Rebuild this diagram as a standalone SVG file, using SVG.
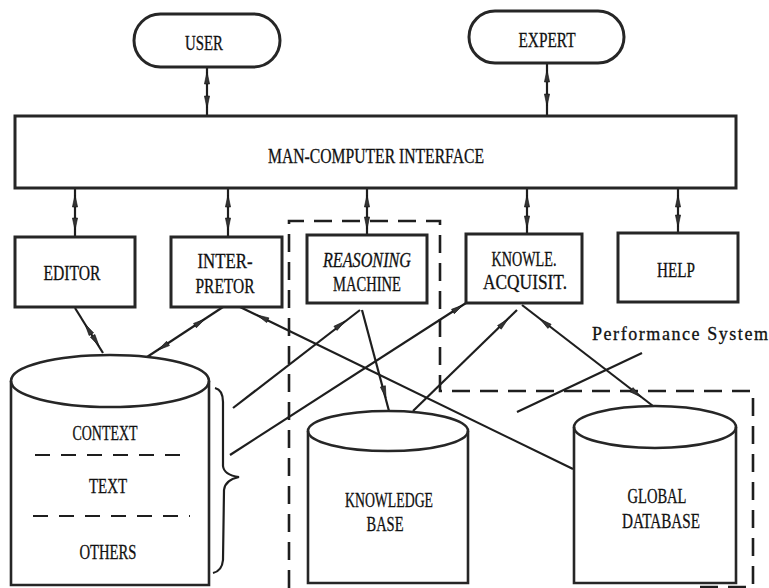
<svg xmlns="http://www.w3.org/2000/svg" xmlns:xlink="http://www.w3.org/1999/xlink" width="769" height="588" viewBox="0 0 769 588">
<style>
.bx{fill:#fff;stroke:#262626;stroke-width:3}
.cy{fill:none;stroke:#262626;stroke-width:2.6}
.ln{fill:none;stroke:#1e1e1e;stroke-width:2.2}
.ds{fill:none;stroke:#1e1e1e;stroke-width:2.6;stroke-dasharray:18 10}
.dsi{fill:none;stroke:#1e1e1e;stroke-width:2.2;stroke-dasharray:15 11}
.t{font-family:"Liberation Serif","Times New Roman",serif;font-size:20px;fill:#111;text-anchor:middle;stroke:#111;stroke-width:0.3}
.ps{font-family:"Liberation Serif","Times New Roman",serif;font-size:18px;fill:#111;stroke:#111;stroke-width:0.3}
.ah{fill:#333;stroke:#111;stroke-width:0.6}
</style>
<defs>
<path id="ah" class="ah" d="M0,0 L-12,-2.6 L-12,2.6 Z"/>
</defs>
<rect width="769" height="588" fill="#fff"/>

<g id="performance-system">
<path class="ds" d="M289,588 V221 H440 V391 H753 V587 H690"/>
<text class="ps" x="592" y="340" textLength="176" lengthAdjust="spacing">Performance System</text>
</g>

<g id="connectors">
<line class="ln" x1="207" y1="67" x2="207" y2="116"/>
<use xlink:href="#ah" transform="translate(207,72) rotate(-90)"/>
<use xlink:href="#ah" transform="translate(207,108) rotate(90)"/>
<line class="ln" x1="547" y1="63" x2="547" y2="115"/>
<use xlink:href="#ah" transform="translate(547,70) rotate(-90)"/>
<use xlink:href="#ah" transform="translate(547,106) rotate(90)"/>

<line class="ln" x1="75" y1="188" x2="75" y2="237"/>
<use xlink:href="#ah" transform="translate(75,195) rotate(-90)"/>
<use xlink:href="#ah" transform="translate(75,230) rotate(90)"/>
<line class="ln" x1="228" y1="188" x2="228" y2="237"/>
<use xlink:href="#ah" transform="translate(228,195) rotate(-90)"/>
<use xlink:href="#ah" transform="translate(228,230) rotate(90)"/>
<line class="ln" x1="367" y1="188" x2="367" y2="235"/>
<use xlink:href="#ah" transform="translate(367,195) rotate(-90)"/>
<use xlink:href="#ah" transform="translate(367,229) rotate(90)"/>
<line class="ln" x1="527" y1="188" x2="527" y2="234"/>
<use xlink:href="#ah" transform="translate(527,195) rotate(-90)"/>
<use xlink:href="#ah" transform="translate(527,228) rotate(90)"/>
<line class="ln" x1="678" y1="188" x2="678" y2="233"/>
<use xlink:href="#ah" transform="translate(678,195) rotate(-90)"/>
<use xlink:href="#ah" transform="translate(678,227) rotate(90)"/>

<line class="ln" x1="75" y1="308" x2="103" y2="353"/>
<use xlink:href="#ah" transform="translate(85,324) rotate(-121.9)"/>
<use xlink:href="#ah" transform="translate(99,346) rotate(58.1)"/>

<line class="ln" x1="223" y1="307" x2="147" y2="357"/>
<use xlink:href="#ah" transform="translate(205,319) rotate(-33.3)"/>
<use xlink:href="#ah" transform="translate(158,350) rotate(146.7)"/>

<line class="ln" x1="240" y1="307" x2="573" y2="469"/>
<use xlink:href="#ah" transform="translate(257,315) rotate(-154.1)"/>

<line class="ln" x1="360" y1="310" x2="233" y2="408"/>
<use xlink:href="#ah" transform="translate(345,321) rotate(-37.7)"/>

<line class="ln" x1="466" y1="303" x2="230" y2="455"/>
<use xlink:href="#ah" transform="translate(463,305) rotate(-32.8)"/>

<line class="ln" x1="362" y1="310" x2="389" y2="411"/>
<use xlink:href="#ah" transform="translate(386,398) rotate(74.9)"/>

<line class="ln" x1="413" y1="411" x2="517" y2="310"/>
<use xlink:href="#ah" transform="translate(508,319) rotate(-44.2)"/>

<line class="ln" x1="522" y1="305" x2="653" y2="406"/>
<use xlink:href="#ah" transform="translate(540,319) rotate(-142.4)"/>
<use xlink:href="#ah" transform="translate(641,397) rotate(37.6)"/>

<line class="ln" x1="642" y1="353" x2="517" y2="412"/>
</g>

<g id="user">
<rect class="bx" x="134" y="14" width="146" height="53" rx="26.5"/>
<text class="t" x="204" y="50" textLength="38" lengthAdjust="spacingAndGlyphs">USER</text>
</g>
<g id="expert">
<rect class="bx" x="469" y="11" width="155" height="52" rx="26"/>
<text class="t" x="547" y="47" textLength="57" lengthAdjust="spacingAndGlyphs">EXPERT</text>
</g>
<g id="man-computer-interface">
<rect class="bx" x="15" y="116" width="721" height="72"/>
<text class="t" x="376" y="163" textLength="216" lengthAdjust="spacingAndGlyphs">MAN-COMPUTER  INTERFACE</text>
</g>
<g id="editor">
<rect class="bx" x="15" y="237" width="120" height="70"/>
<text class="t" x="72" y="280" textLength="57" lengthAdjust="spacingAndGlyphs">EDITOR</text>
</g>
<g id="interpretor">
<rect class="bx" x="171" y="237" width="111" height="70"/>
<text class="t" x="225" y="268" textLength="55" lengthAdjust="spacingAndGlyphs">INTER-</text>
<text class="t" x="225" y="293" textLength="59" lengthAdjust="spacingAndGlyphs">PRETOR</text>
</g>
<g id="reasoning-machine">
<rect class="bx" x="307" y="235" width="120" height="68"/>
<text class="t" x="367" y="267" textLength="88" lengthAdjust="spacingAndGlyphs" font-style="italic">REASONING</text>
<text class="t" x="367" y="291" textLength="68" lengthAdjust="spacingAndGlyphs">MACHINE</text>
</g>
<g id="knowledge-acquisition">
<rect class="bx" x="466" y="234" width="116" height="69"/>
<text class="t" x="524" y="266" textLength="65" lengthAdjust="spacingAndGlyphs">KNOWLE.</text>
<text class="t" x="525" y="289" textLength="84" lengthAdjust="spacingAndGlyphs">ACQUISIT.</text>
</g>
<g id="help">
<rect class="bx" x="618" y="233" width="120" height="69"/>
<text class="t" x="676" y="277" textLength="38" lengthAdjust="spacingAndGlyphs">HELP</text>
</g>

<g id="context-store">
<path class="cy" d="M11,381 V585 H209 V381"/>
<ellipse class="cy" cx="110" cy="381" rx="99" ry="26"/>
<line class="dsi" x1="35" y1="455" x2="182" y2="455"/>
<line class="dsi" x1="33" y1="516" x2="190" y2="516"/>
<text class="t" x="105" y="440" textLength="65" lengthAdjust="spacingAndGlyphs">CONTEXT</text>
<text class="t" x="108" y="493" textLength="38" lengthAdjust="spacingAndGlyphs">TEXT</text>
<text class="t" x="108" y="559" textLength="57" lengthAdjust="spacingAndGlyphs">OTHERS</text>
<path class="ln" d="M215,388 Q223,390 223,402 L223,466 Q224,475 239,477 Q225,480 224,490 L223,560 Q222,571 213,573"/>
</g>

<g id="knowledge-base">
<path class="cy" d="M308,431 V583 H468 V431"/>
<ellipse class="cy" cx="388" cy="431" rx="80" ry="20"/>
<text class="t" x="389" y="507" textLength="88" lengthAdjust="spacingAndGlyphs">KNOWLEDGE</text>
<text class="t" x="385" y="531" textLength="37" lengthAdjust="spacingAndGlyphs">BASE</text>
</g>

<g id="global-database">
<path class="cy" d="M574,427 V583 H736 V427"/>
<ellipse class="cy" cx="655" cy="427" rx="81" ry="21"/>
<text class="t" x="657" y="503" textLength="59" lengthAdjust="spacingAndGlyphs">GLOBAL</text>
<text class="t" x="661" y="528" textLength="78" lengthAdjust="spacingAndGlyphs">DATABASE</text>
</g>
</svg>
